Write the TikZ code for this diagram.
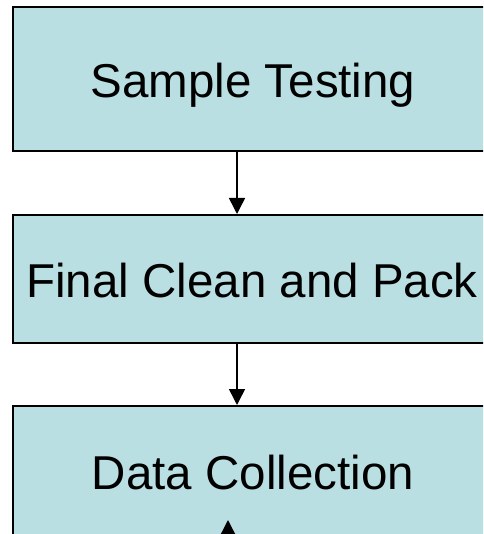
\documentclass[tikz,border=0pt]{standalone}
\usepackage{fontspec}
\setmainfont{Liberation Sans}
\usetikzlibrary{arrows.meta}
\definecolor{boxfill}{HTML}{BADFE2}
\tikzset{
  flowbox/.style={draw=black, line width=2pt, fill=boxfill, rectangle, minimum width=480pt, inner sep=0pt},
  flowtext/.style={inner sep=0pt, anchor=base, font=\fontsize{47.5}{52}\selectfont},
  flowarrow/.style={draw=black, line width=1.5pt, -{Triangle[length=16pt,width=16pt]}}
}
\begin{document}
\begin{tikzpicture}[x=1pt,y=1pt]
\useasboundingbox (0,0) rectangle (483,-534);
\clip (0,0) rectangle (483,-534);
\fill[white] (0,0) rectangle (483,-534);
\node[flowbox, minimum height=144pt] (s) at (253,-79) {};
\node[flowtext] (st) at (253,-98) {Sample Testing};
\node[flowbox, minimum height=128pt] (f) at (253,-279) {};
\node[flowtext] (ft) at (252,-297) {Final Clean and Pack};
\node[flowbox, minimum height=136pt] (d) at (253,-474) {};
\node[flowtext] (dt) at (253,-489) {Data Collection};
\coordinate (ax) at (237,0);
\draw[flowarrow] (s.south -| ax) -- (f.north -| ax);
\draw[flowarrow] (f.south -| ax) -- (d.north -| ax);
\coordinate (up) at (228,-560);
\coordinate (uptip) at (228,-520);
\draw[flowarrow] (up) -- (uptip);
\end{tikzpicture}
\end{document}
